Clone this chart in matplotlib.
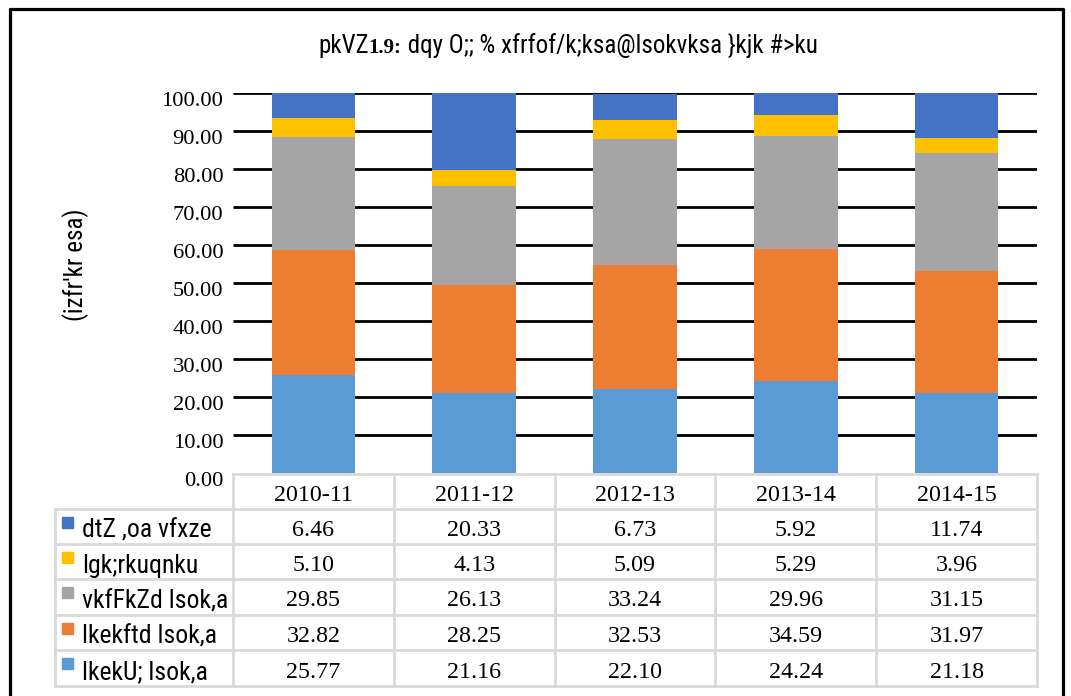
import matplotlib
matplotlib.use("Agg")
import matplotlib.pyplot as plt
from matplotlib import font_manager
from matplotlib.patches import Rectangle
from matplotlib.transforms import ScaledTranslation

# ---- data ----
years = ["2010-11", "2011-12", "2012-13", "2013-14", "2014-15"]
series_names = ["dtZ ,oa vfxze", "lgk;rkuqnku", "vkfFkZd lsok,a", "lkekftd lsok,a", "lkekU; lsok,a"]
loans = [6.46, 20.33, 6.73, 5.92, 11.74]
grants = [5.10, 4.13, 5.09, 5.29, 3.96]
economic = [29.85, 26.13, 33.24, 29.96, 31.15]
social = [32.82, 28.25, 32.53, 34.59, 31.97]
general = [25.77, 21.16, 22.10, 24.24, 21.18]
colors = ["#4472C4", "#FFC000", "#A5A5A5", "#ED7D31", "#5B9BD5"]
title_a = "pkVZ"
title_b = "1.9:"
title_c = " dqy O;; % xfrfof/k;ksa@lsokvksa }kjk #>ku"
ylabel = "(izfr'kr esa)"

avail = {f.name for f in font_manager.fontManager.ttflist}
narrow = [f for f in ["Roboto Condensed", "PT Sans Narrow", "Archivo Narrow"] if f in avail] + ["DejaVu Sans"]
serif = "Liberation Serif"

W, H = 1071, 696
fig = plt.figure(figsize=(W / 100, H / 100), dpi=100)

# main axes (pixel geometry)
L, R, T, B = 233, 1037, 93, 473
ax = fig.add_axes([L / W, 1 - B / H, (R - L) / W, (B - T) / H])
x = list(range(len(years)))
stack = [general, social, economic, grants, loans]
stack_colors = [colors[4], colors[3], colors[2], colors[1], colors[0]]
bottom = [0.0] * len(years)
ticks = [i * 10 for i in range(11)]
ax.hlines(ticks[1:], -0.5, len(years) - 0.5, colors="black", linewidth=2, zorder=1)
for vals, c in zip(stack, stack_colors):
    ax.bar(x, vals, width=0.52, bottom=bottom, color=c, zorder=2)
    bottom = [b + v for b, v in zip(bottom, vals)]
ax.set_xlim(-0.5, len(years) - 0.5)
ax.set_ylim(0, 100)
ax.set_yticks(ticks)
ax.set_yticklabels([f"{t:.2f}" for t in ticks], fontfamily=serif, fontsize=16.2)
ax.tick_params(axis="y", length=0, pad=7)
ax.set_xticks([])
for s in ax.spines.values():
    s.set_visible(False)
off = ScaledTranslation(0, -6 / 100, fig.dpi_scale_trans)
for lab in ax.get_yticklabels():
    lab.set_transform(lab.get_transform() + off)

# overlay axes in pixel coordinates
ov = fig.add_axes([0, 0, 1, 1], zorder=5)
ov.set_xlim(0, W)
ov.set_ylim(H, 0)
ov.axis("off")
ov.patch.set_alpha(0)

# outer frame
ov.plot([9.5, 9.5, 1063, 1063], [H + 5, 9, 9, H + 5], color="black", lw=2.3, solid_capstyle="projecting")

# title
fig.canvas.draw()
r = fig.canvas.get_renderer()
parts = [(title_a, dict(fontfamily=narrow, fontsize=18)),
         (title_b, dict(fontfamily=serif, fontsize=15, fontweight="bold")),
         (title_c, dict(fontfamily=narrow, fontsize=18))]
widths = []
for s, kw in parts:
    t = ov.text(0, 0, s, **kw)
    bb = t.get_window_extent(renderer=r)
    widths.append(bb.width)
    t.remove()
xpos = 568 - sum(widths) / 2
for (s, kw), w in zip(parts, widths):
    ov.text(xpos, 53, s, va="baseline", ha="left", **kw)
    xpos += w

# y label
ov.text(76, 265, ylabel, rotation=90, fontfamily=narrow, fontsize=18, ha="center", va="center")

# data table
grid_c = "#D9D9D9"
col_x = [L + i * (R - L) / len(years) for i in range(len(years) + 1)]
row_y = [474, 509, 544, 579, 615, 650, 686]
ov.plot([L, R], [row_y[0], row_y[0]], color=grid_c, lw=2)
for ry in row_y[1:]:
    ov.plot([55, R], [ry, ry], color=grid_c, lw=2)
for cx in col_x:
    ov.plot([cx, cx], [row_y[0], row_y[-1]], color=grid_c, lw=2)
ov.plot([55, 55], [row_y[1], row_y[-1]], color=grid_c, lw=2)

for i, yr in enumerate(years):
    cx = (col_x[i] + col_x[i + 1]) / 2
    ov.text(cx, (row_y[0] + row_y[1]) / 2 + 4, yr, ha="center", va="center", fontfamily=serif, fontsize=17.3)

table_rows = [loans, grants, economic, social, general]
for j, (name, vals, c) in enumerate(zip(series_names, table_rows, colors)):
    top, bot = row_y[j + 1], row_y[j + 2]
    cy = (top + bot) / 2
    ov.add_patch(Rectangle((62, top + 8), 11, 11, color=c))
    ov.text(82, cy + 4, name, ha="left", va="center", fontfamily=narrow, fontsize=18.5)
    for i, v in enumerate(vals):
        cx = (col_x[i] + col_x[i + 1]) / 2
        ov.text(cx, cy + 4, f"{v:.2f}", ha="center", va="center", fontfamily=serif, fontsize=17.3)

fig.savefig("out.png", dpi=100)
